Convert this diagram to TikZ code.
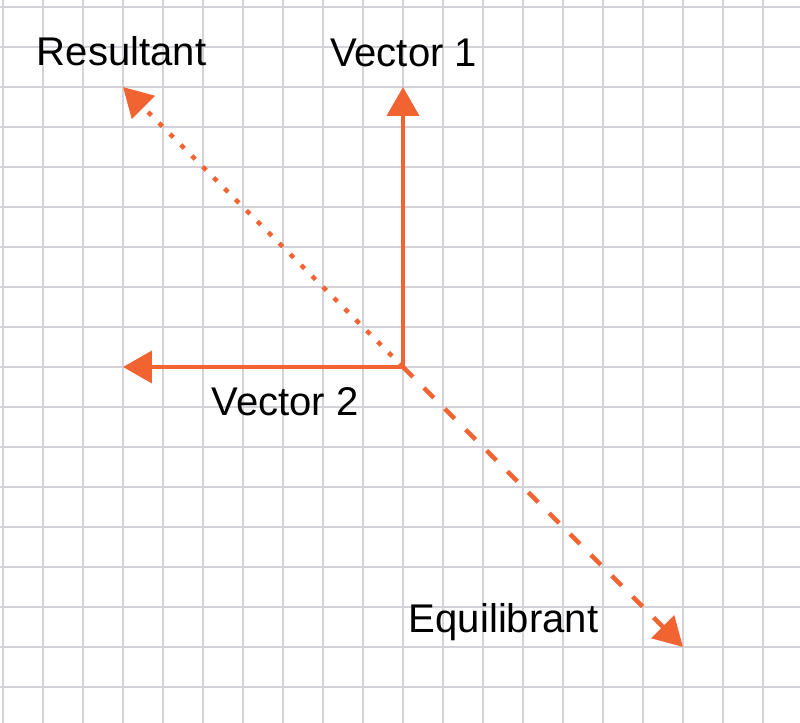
\documentclass[tikz,border=0pt]{standalone}
\usepackage{fontspec}
\setmainfont{Liberation Sans}
\usepackage{xcolor}
\usetikzlibrary{arrows.meta,positioning}

\definecolor{vecorange}{RGB}{241,100,50}
\definecolor{gridgray}{RGB}{210,210,216}

\begin{document}
\begin{tikzpicture}[
  gridline/.style={draw=gridgray,line width=1.3pt},
  vec/.style={-{Triangle[length=20.5pt,width=22.5pt]},line width=3.2pt,vecorange},
  dotline/.style={dash pattern=on 3.5pt off 7.5pt},
  dashline/.style={dash pattern=on 10pt off 11pt},
  lbl/.style={font=\fontsize{28.5}{34}\selectfont,inner sep=0pt,anchor=base}
]
\fill[white] (0,0) rectangle (20,-18.075);
\useasboundingbox (0,0) rectangle (20,-18.075);
\foreach \i in {0,...,19}
  \draw[gridline] (0.075+\i,0) -- (0.075+\i,-18.075);
\foreach \j in {0,...,17}
  \draw[gridline] (0,-0.175-\j) -- (20,-0.175-\j);

\coordinate (o)   at (10.075,-9.175);
\coordinate (v1)  at (10.075,-2.175);
\coordinate (v2)  at (3.075,-9.175);
\coordinate (res) at (3.075,-2.175);
\coordinate (eq)  at (17.075,-16.175);

\draw[vec,dotline] (o) -- (res);
\draw[vec,dashline] (o) -- (eq);
\draw[vec] (o) -- (v1);
\draw[vec] (o) -- (v2);

\node[lbl] (reslbl) at (3.04,-1.65) {Resultant};
\node[lbl] (v1lbl) at (10.09,-1.675) {Vector 1};
\node[lbl] (v2lbl) at (7.125,-10.375) {Vector 2};
\node[lbl] (eqlbl) at (12.59,-15.8) {Equilibrant};
\end{tikzpicture}
\end{document}
